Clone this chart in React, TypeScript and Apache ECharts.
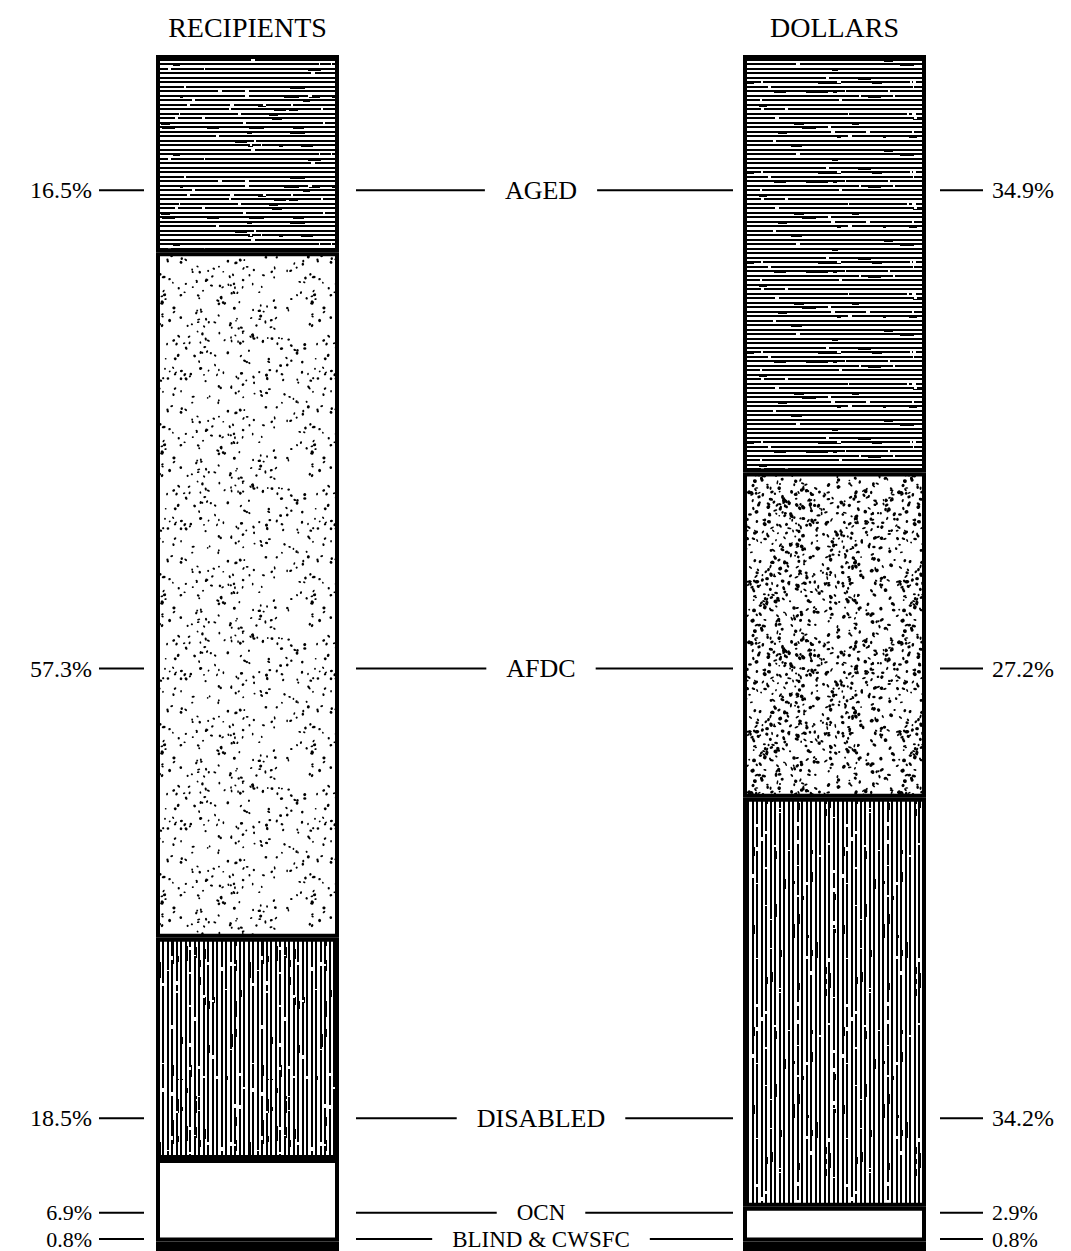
import React, { useEffect, useRef } from 'react';
import * as echarts from 'echarts';

// ---- data ----
const categories = ['RECIPIENTS', '', 'DOLLARS'];
const groups = ['AGED', 'AFDC', 'DISABLED', 'OCN', 'BLIND & CWSFC'];
const recipientsPct = [16.5, 57.3, 18.5, 6.9, 0.8];
const dollarsPct = [34.9, 27.2, 34.2, 2.9, 0.8];
// vertical position (in axis percent units, 0 = top) of each annotation row
const labelRowPos = [11.3, 51.3, 88.9, 96.8, 99.0];
// font sizes of each annotation row (name, percent)
const rowNameSize = [26, 26, 26, 23, 23];
const rowPctSize = [24, 24, 24, 22, 22];

const SERIF = '"Liberation Serif", "Times New Roman", serif';
const BAR_W = 183;

function rng(seed: number) {
  let s = seed >>> 0;
  return () => {
    s = (Math.imul(s, 1664525) + 1013904223) >>> 0;
    return s / 4294967296;
  };
}

function linesTile(vertical: boolean, seed: number, gaps: number, specks: number) {
  const W = 180, H = 90;
  const c = document.createElement('canvas');
  c.width = vertical ? H : W;
  c.height = vertical ? W : H;
  const ctx = c.getContext('2d')!;
  const r = rng(seed);
  ctx.fillStyle = '#fff';
  ctx.fillRect(0, 0, c.width, c.height);
  const rect = (a: number, b: number, len: number, th: number) => {
    if (vertical) ctx.fillRect(b, a, th, len);
    else ctx.fillRect(a, b, len, th);
  };
  ctx.fillStyle = '#000';
  for (let k = 0; k < 20; k++) rect(0, Math.round(k * 4.5), W, 2);
  ctx.fillStyle = '#fff';
  for (let n = 0; n < gaps; n++) {
    const k = Math.floor(r() * 20);
    rect(Math.floor(r() * W), Math.round(k * 4.5), 1 + Math.floor(r() * 4), 2);
  }
  ctx.fillStyle = '#000';
  for (let n = 0; n < specks; n++) {
    const k = Math.floor(r() * 20);
    rect(Math.floor(r() * W), Math.round(k * 4.5) + 2, 3 + Math.floor(r() * 14), 1);
  }
  return { image: c, repeat: 'repeat', imageWidth: c.width, imageHeight: c.height };
}

function dotsTile(seed: number, count: number, minS: number, maxS: number) {
  const W = 150, H = 150;
  const c = document.createElement('canvas');
  c.width = W;
  c.height = H;
  const ctx = c.getContext('2d')!;
  const r = rng(seed);
  ctx.fillStyle = '#fff';
  ctx.fillRect(0, 0, W, H);
  ctx.fillStyle = '#000';
  for (let i = 0; i < count; i++) {
    const x = r() * W, y = r() * H;
    const w = minS + r() * (maxS - minS);
    const h = minS + r() * (maxS - minS) * 1.3;
    const rot = r() * Math.PI;
    for (const dx of [-W, 0, W]) {
      for (const dy of [-H, 0, H]) {
        ctx.beginPath();
        ctx.ellipse(x + dx, y + dy, w / 2, h / 2, rot, 0, Math.PI * 2);
        ctx.fill();
      }
    }
  }
  return { image: c, repeat: 'repeat', imageWidth: W, imageHeight: H };
}

let measureCtx: CanvasRenderingContext2D | null = null;
function textWidth(t: string, size: number) {
  if (!measureCtx) measureCtx = document.createElement('canvas').getContext('2d');
  measureCtx!.font = `${size}px ${SERIF}`;
  return measureCtx!.measureText(t).width;
}

export default function App() {
  const ref = useRef<HTMLDivElement>(null);
  useEffect(() => {
    if (!ref.current) return;
    const chart = echarts.init(ref.current, undefined, { renderer: 'svg' });

    const fills = [
      [linesTile(false, 11, 30, 25), linesTile(false, 23, 30, 25)],
      [dotsTile(5, 280, 1.6, 3.0), dotsTile(9, 600, 1.6, 3.8)],
      [linesTile(true, 31, 35, 30), linesTile(true, 47, 30, 25)],
      ['#ffffff', '#ffffff'],
      ['#000000', '#000000'],
    ];

    const barSeries = groups.map((g, i) => ({
      name: g,
      type: 'bar',
      stack: 'total',
      barWidth: BAR_W,
      silent: true,
      itemStyle: { borderColor: '#000', borderWidth: 4 },
      data: [
        { value: recipientsPct[i], itemStyle: { color: fills[i][0] } },
        '-',
        { value: dollarsPct[i], itemStyle: { color: fills[i][1] } },
      ],
    }));

    const labelSeries = {
      type: 'custom',
      coordinateSystem: 'cartesian2d',
      silent: true,
      z: 10,
      clip: false,
      encode: { x: 0, y: 1 },
      data: labelRowPos.map((p, i) => [1, p, i]),
      renderItem: (_params: any, api: any) => {
        const i = api.value(2);
        const yv = api.value(1);
        const pL = api.coord([0, yv]);
        const pM = api.coord([1, yv]);
        const pR = api.coord([2, yv]);
        const y = pL[1];
        const half = (BAR_W + 4) / 2;
        const lBarL = pL[0] - half, lBarR = pL[0] + half;
        const rBarL = pR[0] - half, rBarR = pR[0] + half;
        const name = groups[i];
        const nSize = rowNameSize[i];
        const pSize = rowPctSize[i];
        const tw = textWidth(name, nSize);
        const line = (x1: number, x2: number) => ({
          type: 'line',
          shape: { x1, y1: y, x2, y2: y },
          style: { stroke: '#000', lineWidth: 2 },
        });
        return {
          type: 'group',
          children: [
            {
              type: 'text',
              x: lBarL - 62,
              y,
              style: {
                text: recipientsPct[i].toFixed(1) + '%',
                font: `${pSize}px ${SERIF}`,
                fill: '#000',
                align: 'right',
                verticalAlign: 'middle',
              },
            },
            line(lBarL - 55, lBarL - 10),
            line(lBarR + 15, pM[0] - tw / 2 - 20),
            {
              type: 'text',
              x: pM[0],
              y,
              style: {
                text: name,
                font: `${nSize}px ${SERIF}`,
                fill: '#000',
                align: 'center',
                verticalAlign: 'middle',
              },
            },
            line(pM[0] + tw / 2 + 20, rBarL - 8),
            line(rBarR + 12, rBarR + 55),
            {
              type: 'text',
              x: rBarR + 64,
              y,
              style: {
                text: dollarsPct[i].toFixed(1) + '%',
                font: `${pSize}px ${SERIF}`,
                fill: '#000',
                align: 'left',
                verticalAlign: 'middle',
              },
            },
          ],
        };
      },
    };

    chart.setOption({
      animation: false,
      backgroundColor: '#ffffff',
      grid: { left: 100.75, width: 880.5, top: 55, height: 1198 },
      xAxis: {
        type: 'category',
        position: 'top',
        data: categories,
        axisLine: { show: false },
        axisTick: { show: false },
        splitLine: { show: false },
        axisLabel: {
          color: '#000',
          fontFamily: SERIF,
          fontSize: 28,
          margin: 14,
          interval: 0,
        },
      },
      yAxis: {
        type: 'value',
        min: 0,
        max: 100,
        inverse: true,
        show: false,
      },
      series: [...barSeries, labelSeries],
    });

    return () => chart.dispose();
  }, []);

  return (
    <div
      ref={ref}
      style={{ position: 'absolute', left: 0, top: 0, width: 1071, height: 1251, background: '#fff' }}
    />
  );
}
